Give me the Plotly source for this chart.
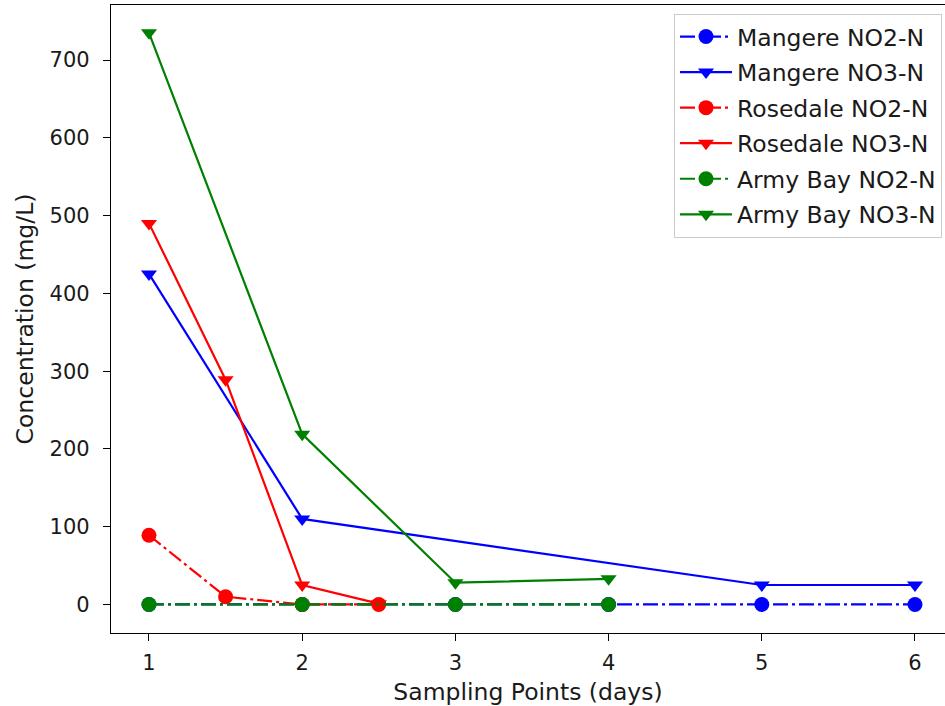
import plotly.graph_objects as go

# Data
mangere_no2_x = [1, 2, 3, 4, 5, 6]
mangere_no2_y = [0, 0, 0, 0, 0, 0]
mangere_no3_x = [1, 2, 5, 6]
mangere_no3_y = [425, 110, 25, 25]
rosedale_no2_x = [1, 1.5, 2, 2.5]
rosedale_no2_y = [89, 10, 0, 0]
rosedale_no3_x = [1, 1.5, 2, 2.5]
rosedale_no3_y = [490, 289, 25, 1]
armybay_no2_x = [1, 2, 3, 4]
armybay_no2_y = [0, 0, 0, 0]
armybay_no3_x = [1, 2, 3, 4]
armybay_no3_y = [735, 219, 28, 33]

x_ticks = [1, 2, 3, 4, 5, 6]
y_ticks = [0, 100, 200, 300, 400, 500, 600, 700]

DASHDOT = "15px,4px,3px,4px"

series = [
    ("Mangere NO2-N", mangere_no2_x, mangere_no2_y, "blue", "circle", DASHDOT),
    ("Mangere NO3-N", mangere_no3_x, mangere_no3_y, "blue", "triangle-down", "solid"),
    ("Rosedale NO2-N", rosedale_no2_x, rosedale_no2_y, "red", "circle", DASHDOT),
    ("Rosedale NO3-N", rosedale_no3_x, rosedale_no3_y, "red", "triangle-down", "solid"),
    ("Army Bay NO2-N", armybay_no2_x, armybay_no2_y, "green", "circle", DASHDOT),
    ("Army Bay NO3-N", armybay_no3_x, armybay_no3_y, "green", "triangle-down", "solid"),
]

fig = go.Figure()
for i, (name, xs, ys, col, sym, dash) in enumerate(series):
    fig.add_trace(go.Scatter(
        x=xs, y=ys, name=name, mode="lines+markers",
        line=dict(color=col, width=2.2, dash=dash),
        marker=dict(color=col, symbol=sym, size=15 if sym == "circle" else 14, line=dict(width=0)),
        legendgroup=f"g{i}",
    ))

TICK_FS = 21
LEG_FS = 23.5
TITLE_FS = 23.5
TXT = "#1a1a1a"
fig.update_layout(
    width=945, height=706,
    margin=dict(l=111, r=0, t=5, b=73),
    paper_bgcolor="white", plot_bgcolor="white",
    font=dict(family="DejaVu Sans", size=TICK_FS, color=TXT),
    showlegend=True,
    legend=dict(
        x=0.9964, y=0.986, xanchor="right", yanchor="top",
        bgcolor="rgba(255,255,255,0.8)", bordercolor="#cccccc", borderwidth=1,
        font=dict(family="DejaVu Sans", size=LEG_FS, color=TXT),
        tracegroupgap=2, itemwidth=52,
    ),
    xaxis=dict(
        range=[0.752, 6.196], tickvals=x_ticks, ticktext=[str(v) for v in x_ticks],
        showgrid=False, zeroline=False, showline=True, linecolor="black", linewidth=1.3,
        mirror=True, ticks="outside", ticklen=7, tickcolor="black", tickwidth=1.3,
        ticklabelstandoff=4,
        tickfont=dict(size=TICK_FS, family="DejaVu Sans", color=TXT),
        title=dict(text="Sampling Points (days)", font=dict(size=TITLE_FS, family="DejaVu Sans", color=TXT), standoff=10),
    ),
    yaxis=dict(
        range=[-36.7, 770.8], tickvals=y_ticks, ticktext=[str(v) for v in y_ticks],
        showgrid=False, zeroline=False, showline=True, linecolor="black", linewidth=1.3,
        mirror=False, ticks="outside", ticklen=7, tickcolor="black", tickwidth=1.3,
        ticklabelstandoff=9,
        tickfont=dict(size=TICK_FS, family="DejaVu Sans", color=TXT),
        title=dict(text="Concentration (mg/L)", font=dict(size=TITLE_FS, family="DejaVu Sans", color=TXT), standoff=9),
    ),
)

fig.write_html("out.html")
